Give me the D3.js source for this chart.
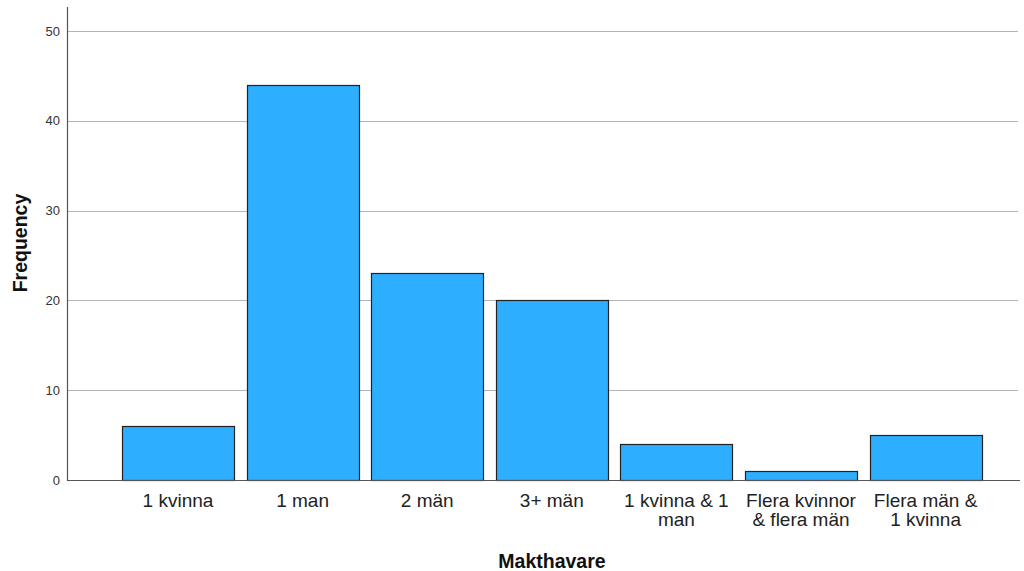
<!DOCTYPE html>
<html><head><meta charset="utf-8">
<script src="https://cdn.jsdelivr.net/npm/d3@7"></script>
<style>body{margin:0;background:#fff}svg{display:block}</style>
</head><body>
<svg id="c" width="1024" height="571"></svg>
<script>
const categories = ["1 kvinna","1 man","2 män","3+ män","1 kvinna & 1\nman","Flera kvinnor\n& flera män","Flera män &\n1 kvinna"];
const values = [6,44,23,20,4,1,5];
const yTicks = [0,10,20,30,40,50];

const svg = d3.select("#c");
const x = d3.scaleBand().domain(categories).range([115.7,987.9]).paddingInner(0.1).paddingOuter(0.05);
const y = d3.scaleLinear().domain([0,50]).range([480,31]);
const FONT = "Liberation Sans, Arial, sans-serif";

// gridlines
svg.append("g").selectAll("line").data(yTicks.filter(d=>d>0)).join("line")
  .attr("x1",67).attr("x2",1018).attr("y1",d=>Math.round(y(d))+0.5).attr("y2",d=>Math.round(y(d))+0.5)
  .attr("stroke","#b4b4b4").attr("stroke-width",1);

// bars
svg.append("g").selectAll("rect").data(values).join("rect")
  .attr("x",(d,i)=>Math.round(x(categories[i]))+0.5)
  .attr("width",Math.round(x.bandwidth()))
  .attr("y",d=>Math.round(y(d))+0.5)
  .attr("height",d=>Math.round(y(0))-Math.round(y(d)))
  .attr("fill","#2eaeff").attr("stroke","#222").attr("stroke-width",1.2);

// axes lines
svg.append("line").attr("x1",67.5).attr("x2",67.5).attr("y1",7).attr("y2",481).attr("stroke","#555").attr("stroke-width",1.2);
svg.append("line").attr("x1",67).attr("x2",1020).attr("y1",480.5).attr("y2",480.5).attr("stroke","#555").attr("stroke-width",1.2);

// y tick labels
svg.append("g").selectAll("text").data(yTicks).join("text")
  .attr("x",60).attr("y",d=>y(d)+4.5).attr("text-anchor","end")
  .attr("font-family",FONT).attr("font-size",13).attr("fill","#333")
  .text(d=>d);

// x category labels
const xl = svg.append("g").selectAll("text").data(categories).join("text")
  .attr("x",d=>x(d)+x.bandwidth()/2).attr("y",506.5).attr("text-anchor","middle")
  .attr("font-family",FONT).attr("font-size",19).attr("fill","#222");
xl.each(function(d){
  const t=d3.select(this);
  d.split("\n").forEach((s,i)=>t.append("tspan").attr("x",x(d)+x.bandwidth()/2).attr("dy",i?19.5:0).text(s));
});

// axis titles
svg.append("text").attr("x",552).attr("y",568).attr("text-anchor","middle")
  .attr("font-family",FONT).attr("font-size",19.5).attr("font-weight","bold").attr("fill","#111")
  .text("Makthavare");
svg.append("text").attr("transform","translate(27,243) rotate(-90)").attr("text-anchor","middle")
  .attr("font-family",FONT).attr("font-size",19.5).attr("font-weight","bold").attr("fill","#111")
  .text("Frequency");
</script>
</body></html>
